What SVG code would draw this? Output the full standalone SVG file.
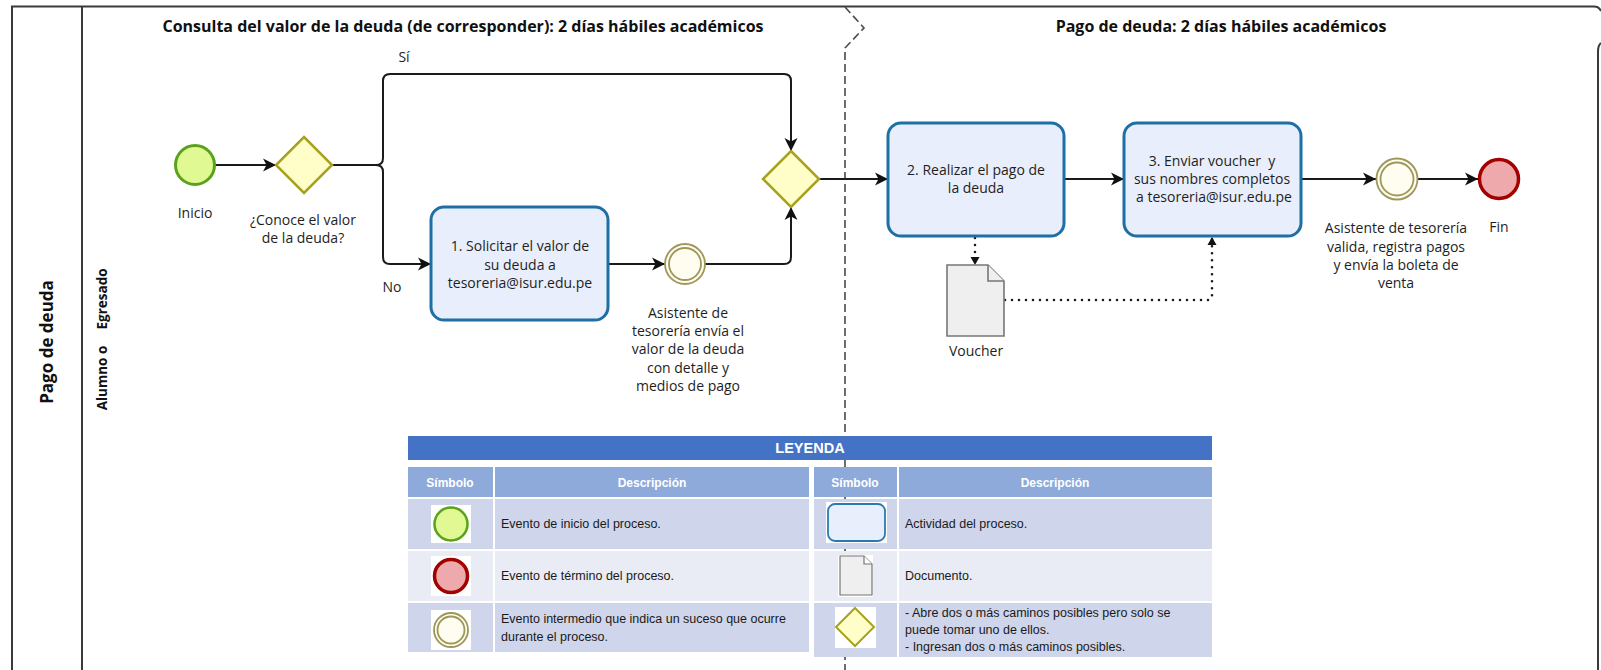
<svg xmlns="http://www.w3.org/2000/svg" width="1601" height="670" viewBox="0 0 1601 670">
  <defs>
    <style>
      .frame { fill: none; stroke: #3a3a3a; stroke-width: 2; }
      .phase { fill: none; stroke: #4a4a4a; stroke-width: 1.6; stroke-dasharray: 8 4; }
      .title { font-family: "Open Sans", "Noto Sans", sans-serif; font-weight: bold; font-size: 16px; fill: #111; text-anchor: middle; }
      .lane { font-family: "Open Sans", "Noto Sans", sans-serif; font-weight: bold; fill: #111; text-anchor: middle; }
      .lbl { font-family: "Open Sans", "Noto Sans", sans-serif; font-size: 14px; fill: #1e1e1e; text-anchor: middle; }
      .task { fill: #e9eefc; stroke: #1d6fa5; stroke-width: 3; }
      .start { fill: #e0f993; stroke: #5ba21c; stroke-width: 3; }
      .end { fill: #eda9ab; stroke: #a30000; stroke-width: 3.5; }
      .mid { fill: #fffcf0; stroke: #9d975a; stroke-width: 1.8; }
      .gw { fill: #fffdc8; stroke: #a7a21f; stroke-width: 2.5; }
      .doc { fill: #efefef; stroke: #777; stroke-width: 1.6; }
      .flow { fill: none; stroke: #1a1a1a; stroke-width: 2; marker-end: url(#arrow); }
      .assoc { fill: none; stroke: #1a1a1a; stroke-width: 2.6; stroke-dasharray: 0 7; stroke-linecap: round; marker-end: url(#assocHead); }
      .lgBar { fill: #4472c4; }
      .lgHead { fill: #8eaadb; }
      .lgDark { fill: #cfd5ea; }
      .lgLight { fill: #e9ebf5; }
      .lgHeadTxt { font-family: "Liberation Sans", Arial, sans-serif; font-weight: bold; font-size: 12px; fill: #fff; text-anchor: middle; }
      .lgTitle { font-size: 14.5px; }
      .lgTxt { font-family: "Liberation Sans", Arial, sans-serif; font-size: 12.5px; fill: #1a1a1a; }
      .lgIcon { stroke-width: 2.5; }
    </style>
    <marker id="arrow" markerUnits="userSpaceOnUse" markerWidth="14" markerHeight="14" refX="13" refY="7" orient="auto">
      <path d="M0,0.5 L13,7 L0,13.5 L3.5,7 z" fill="#111"/>
    </marker>
    <marker id="assocHead" markerUnits="userSpaceOnUse" markerWidth="10" markerHeight="10" refX="8" refY="5" orient="auto">
      <path d="M0,0.5 L8,5 L0,9.5 z" fill="#111"/>
    </marker>
  </defs>

  <rect width="1601" height="670" fill="#fff"/>

  <!-- pool frame and lane -->
  <g id="pool">
    <path class="frame" d="M12,670 V6.5 H1594 Q1599,6.5 1601,11"/>
    <path class="frame" d="M1601,43 Q1598,45 1598,52 V670"/>
    <line class="frame" x1="82" y1="6.5" x2="82" y2="670"/>
    <text class="lane" font-size="17" transform="translate(53,342) rotate(-90)">Pago de deuda</text>
    <text class="lane" font-size="13.5" transform="translate(107,378) rotate(-90)">Alumno o</text>
    <text class="lane" font-size="13.5" transform="translate(107,299) rotate(-90)">Egresado</text>
  </g>

  <!-- phase separator -->
  <path id="phase-divider" class="phase" d="M845,7 L864,28 L845,48 V670"/>

  <g id="phase-titles">
    <text class="title" x="463" y="32">Consulta del valor de la deuda (de corresponder): 2 días hábiles académicos</text>
    <text class="title" x="1221" y="32">Pago de deuda: 2 días hábiles académicos</text>
  </g>

  <!-- sequence and association flows -->
  <g id="connectors">
    <path class="flow" d="M215,165 H276"/>
    <path class="flow" d="M332,165 H376 Q383,165 383,158 V81 Q383,74 390,74 H784 Q791,74 791,81 V151"/>
    <path class="flow" d="M332,165 H376 Q383,165 383,172 V257 Q383,264 390,264 H431"/>
    <path class="flow" d="M608,264 H665"/>
    <path class="flow" d="M705,264 H784 Q791,264 791,257 V207"/>
    <path class="flow" d="M819,179 H888"/>
    <path class="flow" d="M1064,179 H1124"/>
    <path class="flow" d="M1301,179 H1376"/>
    <path class="flow" d="M1418,179 H1478"/>
    <path class="assoc" d="M975,238 V265"/>
    <path class="assoc" d="M1005,300 H1208 Q1212,300 1212,296 V237"/>
    <text class="lbl" x="404" y="62">Sí</text>
    <text class="lbl" x="392" y="292">No</text>
  </g>

  <g id="start-event">
    <circle class="start" cx="195" cy="165" r="19.5"/>
    <text class="lbl" x="195" y="218">Inicio</text>
  </g>

  <g id="gateway-conoce">
    <polygon class="gw" points="304,137 332,165 304,193 276,165"/>
    <text class="lbl" x="303" y="225">¿Conoce el valor</text>
    <text class="lbl" x="303" y="243">de la deuda?</text>
  </g>

  <g id="task-solicitar">
    <rect class="task" x="431" y="207" width="177" height="113" rx="13"/>
    <text class="lbl" x="520" y="251">1. Solicitar el valor de</text>
    <text class="lbl" x="520" y="270">su deuda a</text>
    <text class="lbl" x="520" y="288">tesoreria@isur.edu.pe</text>
  </g>

  <g id="event-envio-valor">
    <circle class="mid" cx="685" cy="264" r="20"/>
    <circle class="mid" cx="685" cy="264" r="16"/>
    <text class="lbl" x="688" y="318">Asistente de</text>
    <text class="lbl" x="688" y="336">tesorería envía el</text>
    <text class="lbl" x="688" y="354">valor de la deuda</text>
    <text class="lbl" x="688" y="373">con detalle y</text>
    <text class="lbl" x="688" y="391">medios de pago</text>
  </g>

  <g id="gateway-merge">
    <polygon class="gw" points="791,151 819,179 791,207 763,179"/>
  </g>

  <g id="task-pago">
    <rect class="task" x="888" y="123" width="176" height="113" rx="13"/>
    <text class="lbl" x="976" y="175">2. Realizar el pago de</text>
    <text class="lbl" x="976" y="193">la deuda</text>
  </g>

  <g id="doc-voucher">
    <path class="doc" d="M947,265 H988 L1004,281 V336 H947 Z"/>
    <path class="doc" d="M988,265 V281 H1004" fill="#fff"/>
    <text class="lbl" x="976" y="356">Voucher</text>
  </g>

  <g id="task-enviar">
    <rect class="task" x="1124" y="123" width="177" height="113" rx="13"/>
    <text class="lbl" x="1212" y="166">3. Enviar voucher&#160; y</text>
    <text class="lbl" x="1212" y="184">sus nombres completos</text>
    <text class="lbl" x="1214" y="202">a tesoreria@isur.edu.pe</text>
  </g>

  <g id="event-validacion">
    <circle class="mid" cx="1397" cy="179" r="20.5"/>
    <circle class="mid" cx="1397" cy="179" r="16.5"/>
    <text class="lbl" x="1396" y="233">Asistente de tesorería</text>
    <text class="lbl" x="1396" y="252">valida, registra pagos</text>
    <text class="lbl" x="1396" y="270">y envía la boleta de</text>
    <text class="lbl" x="1396" y="288">venta</text>
  </g>

  <g id="end-event">
    <circle class="end" cx="1499" cy="179" r="19.5"/>
    <text class="lbl" x="1499" y="232">Fin</text>
  </g>

  <!-- legend table -->
  <g id="legend">
    <rect class="lgBar" x="408" y="436" width="804" height="24"/>
    <text class="lgHeadTxt lgTitle" x="810" y="453">LEYENDA</text>

    <rect class="lgHead" x="408" y="467" width="85" height="30"/>
    <rect class="lgHead" x="495" y="467" width="314" height="30"/>
    <text class="lgHeadTxt" x="450" y="487">Símbolo</text>
    <text class="lgHeadTxt" x="652" y="487">Descripción</text>

    <rect class="lgDark" x="408" y="499" width="85" height="50"/>
    <rect class="lgDark" x="495" y="499" width="314" height="50"/>
    <rect class="lgLight" x="408" y="551" width="85" height="50"/>
    <rect class="lgLight" x="495" y="551" width="314" height="50"/>
    <rect class="lgDark" x="408" y="603" width="85" height="49"/>
    <rect class="lgDark" x="495" y="603" width="314" height="49"/>

    <rect x="431" y="505" width="40" height="38" fill="#fff"/>
    <circle class="start lgIcon" cx="451" cy="524" r="16.5"/>
    <rect x="431" y="556" width="40" height="40" fill="#fff"/>
    <circle class="end" cx="451" cy="576" r="16.5"/>
    <rect x="431" y="610" width="40" height="40" fill="#fff"/>
    <circle class="mid" cx="451" cy="630" r="17"/>
    <circle class="mid" cx="451" cy="630" r="13.5"/>

    <text class="lgTxt" x="501" y="528">Evento de inicio del proceso.</text>
    <text class="lgTxt" x="501" y="580">Evento de término del proceso.</text>
    <text class="lgTxt" x="501" y="623">Evento intermedio que indica un suceso que ocurre</text>
    <text class="lgTxt" x="501" y="641">durante el proceso.</text>

    <rect class="lgHead" x="814" y="467" width="83" height="30"/>
    <rect class="lgHead" x="899" y="467" width="313" height="30"/>
    <text class="lgHeadTxt" x="855" y="487">Símbolo</text>
    <text class="lgHeadTxt" x="1055" y="487">Descripción</text>

    <rect class="lgDark" x="814" y="499" width="83" height="50"/>
    <rect class="lgDark" x="899" y="499" width="313" height="50"/>
    <rect class="lgLight" x="814" y="551" width="83" height="50"/>
    <rect class="lgLight" x="899" y="551" width="313" height="50"/>
    <rect class="lgDark" x="814" y="603" width="83" height="54"/>
    <rect class="lgDark" x="899" y="603" width="313" height="54"/>

    <rect x="826" y="502" width="61" height="41" fill="#fff"/>
    <rect x="828" y="504" width="57" height="37" rx="7" fill="#e9eefc" stroke="#2a7ab0" stroke-width="1.8"/>
    <rect x="838" y="555" width="35" height="42" fill="#fff"/>
    <path d="M840,556 H864 L872,564 V595 H840 Z" fill="#efefef" stroke="#777" stroke-width="1.2"/>
    <path d="M864,556 V564 H872" fill="#fff" stroke="#777" stroke-width="1.2"/>
    <rect x="835" y="607" width="41" height="41" fill="#fff"/>
    <polygon points="855,608 874,627 855,646 836,627" fill="#fffdc8" stroke="#a7a21f" stroke-width="2"/>

    <text class="lgTxt" x="905" y="528">Actividad del proceso.</text>
    <text class="lgTxt" x="905" y="580">Documento.</text>
    <text class="lgTxt" x="905" y="617">- Abre dos o más caminos posibles pero solo se</text>
    <text class="lgTxt" x="905" y="634">puede tomar uno de ellos.</text>
    <text class="lgTxt" x="905" y="651">- Ingresan dos o más caminos posibles.</text>
  </g>
</svg>
